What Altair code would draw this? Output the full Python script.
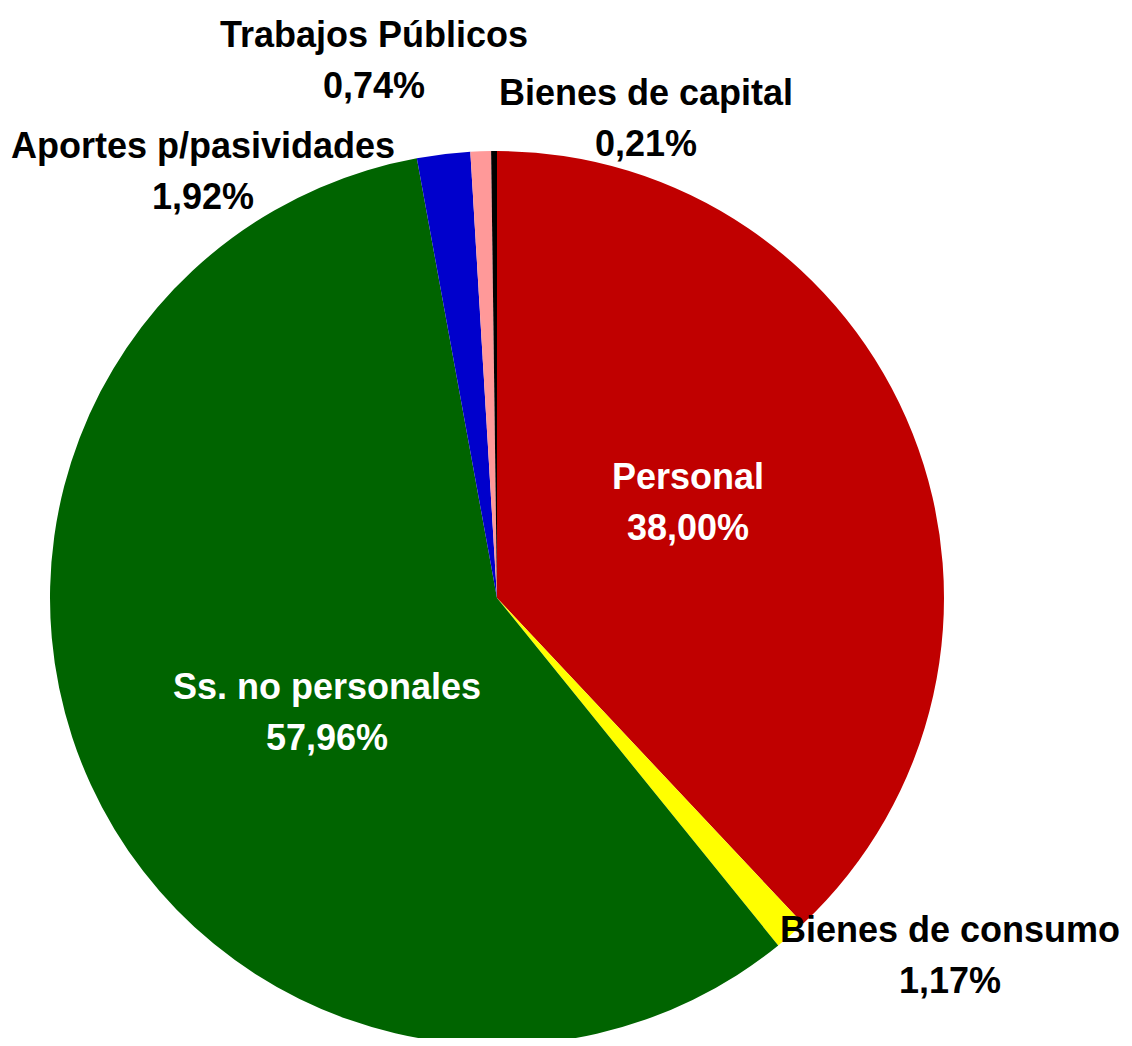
import altair as alt
import pandas as pd

# Data
categories = ["Personal", "Bienes de consumo", "Ss. no personales",
              "Aportes p/pasividades", "Trabajos Públicos", "Bienes de capital"]
values = [38.00, 1.17, 57.96, 1.92, 0.74, 0.21]
value_labels = ["38,00%", "1,17%", "57,96%", "1,92%", "0,74%", "0,21%"]
colors = ["#C00000", "#FFFF00", "#006400", "#0000CC", "#FF9999", "#000000"]

df = pd.DataFrame({"cat": categories, "val": values, "idx": list(range(len(values)))})

# Layout (plot-area pixels)
CX, CY, R = 489, 590, 447
label_place = {
    # name: (x center, baseline name line, text colour)
    "Personal": (680, 481, "white"),
    "Bienes de consumo": (942, 934, "black"),
    "Ss. no personales": (319, 691, "white"),
    "Aportes p/pasividades": (195, 150, "black"),
    "Trabajos Públicos": (366, 39, "black"),
    "Bienes de capital": (638, 97, "black"),
}
LINE_GAP = 51

rows = []
for c, v in zip(categories, value_labels):
    x, y, col = label_place[c]
    rows.append({"t": c, "x": x, "y": y, "col": col})
    rows.append({"t": v, "x": x, "y": y + LINE_GAP, "col": col})
lab = pd.DataFrame(rows)

pie = alt.Chart(df).mark_arc(outerRadius=R, stroke=None).encode(
    theta=alt.Theta("val:Q", stack=True, scale=alt.Scale(domain=[0, 100], range=[0, 6.283185307])),
    color=alt.Color("cat:N", scale=alt.Scale(domain=categories, range=colors), legend=None),
    order=alt.Order("idx:Q"),
    x=alt.value(CX),
    y=alt.value(CY),
)

text = alt.Chart(lab).mark_text(
    font="Liberation Sans Narrow, Arial Narrow, Liberation Sans, Arial",
    fontSize=36, fontWeight="bold", align="center", baseline="alphabetic",
).encode(
    x=alt.X("x:Q", scale=None),
    y=alt.Y("y:Q", scale=None),
    text="t:N",
    color=alt.Color("col:N", scale=None, legend=None),
)

chart = alt.layer(pie, text).properties(
    width=1116, height=1030, padding=0,
    autosize=alt.AutoSizeParams(type="none"),
).configure_view(stroke=None)

chart.save("out.html", embed_options={"renderer": "svg", "actions": False})
